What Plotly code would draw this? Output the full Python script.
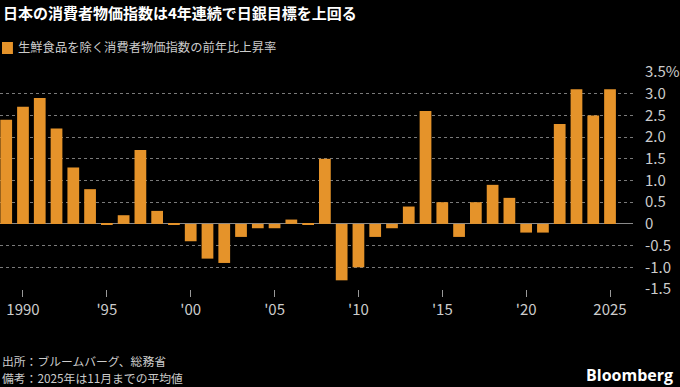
import plotly.graph_objects as go

# ---- data ----
years = list(range(1989, 2026))
core_cpi_yoy = [2.4, 2.7, 2.9, 2.2, 1.3, 0.8, -0.02, 0.2, 1.7, 0.3,
                -0.02, -0.4, -0.8, -0.9, -0.3, -0.1, -0.1, 0.1, -0.02, 1.5,
                -1.3, -1.0, -0.3, -0.1, 0.4, 2.6, 0.5, -0.3, 0.5, 0.9,
                0.6, -0.2, -0.2, 2.3, 3.1, 2.5, 3.1]
x_tick_vals = [1990, 1995, 2000, 2005, 2010, 2015, 2020, 2025]
x_tick_text = ["1990", "'95", "'00", "'05", "'10", "'15", "'20", "2025"]
y_tick_vals = [-1.5, -1.0, -0.5, 0, 0.5, 1.0, 1.5, 2.0, 2.5, 3.0, 3.5]
y_tick_text = ["-1.5", "-1.0", "-0.5", "0", "0.5", "1.0", "1.5", "2.0", "2.5", "3.0", "3.5%"]

title = "日本の消費者物価指数は4年連続で日銀目標を上回る"
series_name = "生鮮食品を除く消費者物価指数の前年比上昇率"
source1 = "出所：ブルームバーグ、総務省"
source2 = "備考：2025年は11月までの平均値"

# ---- style ----
W, H = 680, 387
ML, MR, MT, MB = 0, 44, 72, 98
PW, PH = W - ML - MR, H - MT - MB
FONT = "Noto Sans CJK JP"
BAR = "#E5932A"
GRID = "#7a7a7a"
LABEL = "#cccccc"


def px(x):
    return (x - ML) / PW


def py(y):
    return (H - MB - y) / PH


fig = go.Figure()
fig.add_trace(go.Bar(x=years, y=core_cpi_yoy, name=series_name,
                     marker=dict(color=BAR, line=dict(width=0)),
                     showlegend=False))

fig.update_layout(
    width=W, height=H,
    margin=dict(l=ML, r=MR, t=MT, b=MB),
    paper_bgcolor="black", plot_bgcolor="black",
    bargap=0.3,
    font=dict(family=FONT, color=LABEL),
    xaxis=dict(range=[1988.63, 2026.37], tickvals=x_tick_vals, ticktext=x_tick_text,
               ticks="outside", ticklen=7, tickwidth=1, tickcolor="#999999",
               showgrid=False, zeroline=False, showline=False,
               tickfont=dict(size=15, color=LABEL, family=FONT)),
    yaxis=dict(range=[-1.5, 3.5], tickvals=y_tick_vals, ticktext=y_tick_text,
               side="right", ticks="", ticklabelstandoff=11,
               showgrid=True, gridcolor=GRID, griddash="dot", gridwidth=1,
               zeroline=True, zerolinecolor="#8a8a8a", zerolinewidth=1,
               tickfont=dict(size=15, color=LABEL, family=FONT)),
)

annos = [
    dict(text="<b>" + title + "</b>", x=px(1), y=py(13), xanchor="left", yanchor="middle",
         font=dict(size=15, color="white", family=FONT)),
    dict(text=series_name, x=px(16), y=py(47), xanchor="left", yanchor="middle",
         font=dict(size=12.3, color=LABEL, family=FONT)),
    dict(text=source1, x=px(0), y=py(360), xanchor="left", yanchor="middle",
         font=dict(size=11.8, color=LABEL, family=FONT)),
    dict(text=source2, x=px(0), y=py(377), xanchor="left", yanchor="middle",
         font=dict(size=11.8, color=LABEL, family=FONT)),
    dict(text="<b>Bloomberg</b>", x=px(678), y=py(375), xanchor="right", yanchor="middle",
         font=dict(size=16, color="white", family="Open Sans")),
]
for a in annos:
    a.update(xref="paper", yref="paper", showarrow=False)
fig.update_layout(annotations=annos)

fig.add_shape(type="rect", xref="paper", yref="paper",
              x0=px(2), x1=px(13), y0=py(54), y1=py(42),
              fillcolor=BAR, line=dict(width=0))

fig.write_html(
    "out.html",
    config={"displayModeBar": False},
    post_script="document.body.style.margin='0';document.body.style.background='black';",
)
